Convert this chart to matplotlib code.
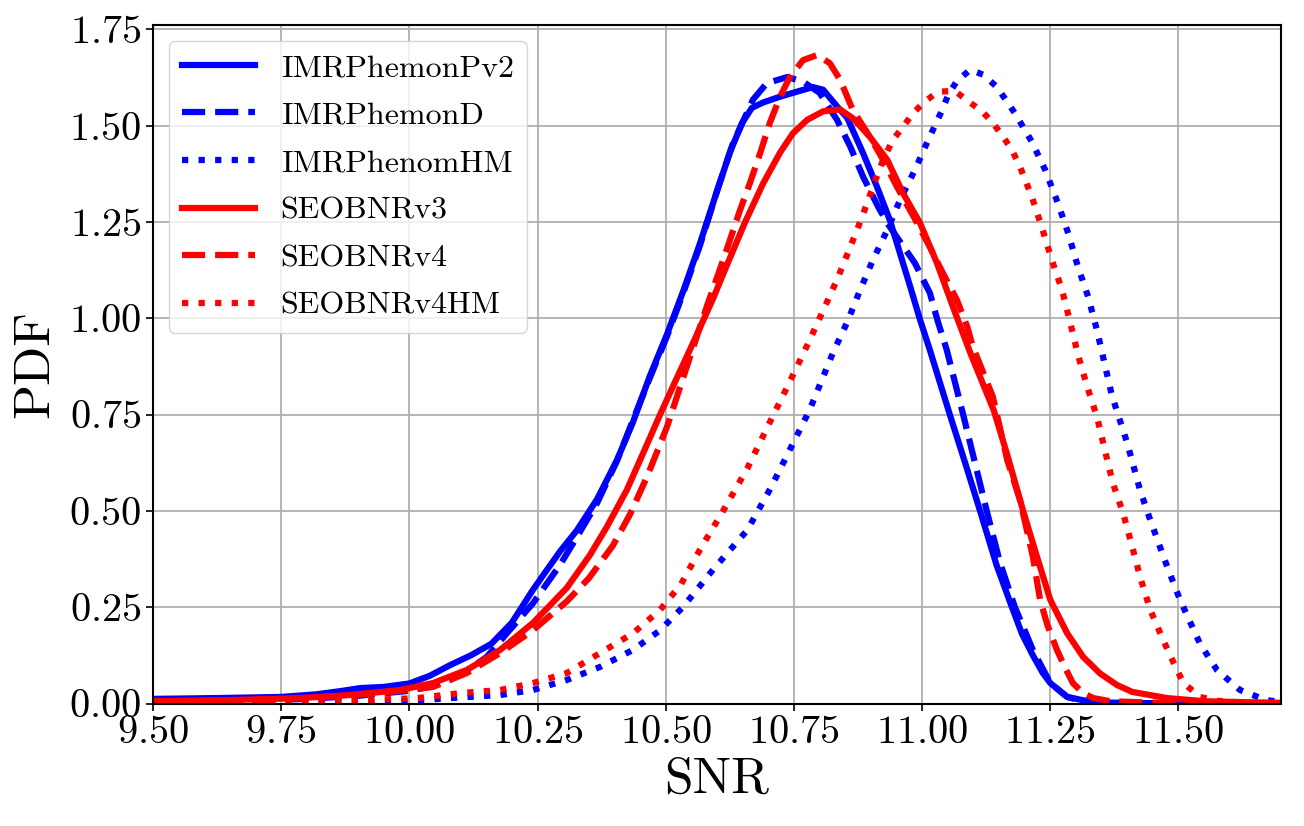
import matplotlib
matplotlib.use('Agg')
import matplotlib.pyplot as plt

plt.rcParams['font.family'] = 'cmr10'
plt.rcParams['mathtext.fontset'] = 'cm'
plt.rcParams['axes.formatter.use_mathtext'] = True

# values
pv2_x = [9.50, 9.62, 9.75, 9.82, 9.87, 9.904, 9.95, 10.00, 10.04, 10.08, 10.12, 10.16, 10.20,
         10.241, 10.27, 10.294, 10.327, 10.366, 10.405, 10.436, 10.469, 10.503, 10.534, 10.567,
         10.60, 10.625, 10.649, 10.668, 10.69, 10.723, 10.756, 10.787, 10.807, 10.834, 10.854,
         10.885, 10.912, 10.937, 10.957, 10.977, 10.996, 11.015, 11.054, 11.085, 11.113, 11.145,
         11.171, 11.195, 11.216, 11.235, 11.25, 11.283, 11.33, 11.40, 11.70]
pv2_y = [0.012, 0.014, 0.017, 0.024, 0.033, 0.040, 0.043, 0.052, 0.072, 0.100, 0.125, 0.155, 0.21,
         0.295, 0.35, 0.395, 0.45, 0.53, 0.632, 0.73, 0.85, 0.96, 1.07, 1.195,
         1.33, 1.43, 1.507, 1.546, 1.56, 1.575, 1.588, 1.60, 1.593, 1.55, 1.52,
         1.428, 1.341, 1.255, 1.168, 1.081, 0.996, 0.918, 0.75, 0.62, 0.50, 0.36,
         0.265, 0.18, 0.125, 0.08, 0.053, 0.017, 0.004, 0.001, 0.0]

d_x = [9.50, 9.65, 9.80, 9.90, 10.00, 10.046, 10.079, 10.112, 10.151, 10.19, 10.241, 10.294,
       10.319, 10.366, 10.405, 10.436, 10.469, 10.503, 10.534, 10.567, 10.60, 10.63, 10.67,
       10.697, 10.737, 10.768, 10.80, 10.834, 10.86, 10.885, 10.914, 10.932, 10.951, 10.973,
       10.986, 11.002, 11.015, 11.031, 11.048, 11.08, 11.126, 11.152, 11.181, 11.216, 11.25,
       11.283, 11.32, 11.40, 11.70]
d_y = [0.004, 0.006, 0.012, 0.020, 0.033, 0.045, 0.061, 0.085, 0.121, 0.182, 0.26, 0.36,
       0.415, 0.52, 0.63, 0.735, 0.845, 0.955, 1.065, 1.19, 1.33, 1.45, 1.567,
       1.61, 1.626, 1.614, 1.585, 1.515, 1.445, 1.367, 1.29, 1.247, 1.21, 1.168,
       1.143, 1.10, 1.066, 0.99, 0.918, 0.75, 0.50, 0.365, 0.25, 0.139, 0.053,
       0.017, 0.004, 0.001, 0.0]

hm_x = [9.50, 9.90, 9.983, 10.079, 10.177, 10.241, 10.307, 10.372, 10.436, 10.489, 10.534,
        10.592, 10.659, 10.705, 10.75, 10.78, 10.826, 10.854, 10.879, 10.904, 10.932, 10.957,
        10.986, 11.012, 11.039, 11.051, 11.068, 11.094, 11.119, 11.146, 11.181, 11.214, 11.24,
        11.265, 11.285, 11.304, 11.324, 11.341, 11.37, 11.40, 11.425, 11.445, 11.478, 11.503,
        11.542, 11.575, 11.62, 11.67, 11.70]
hm_y = [0.0, 0.003, 0.005, 0.014, 0.022, 0.035, 0.061, 0.095, 0.139, 0.19, 0.251,
        0.347, 0.45, 0.56, 0.68, 0.76, 0.91, 0.99, 1.073, 1.151, 1.229, 1.307,
        1.385, 1.463, 1.54, 1.58, 1.616, 1.645, 1.632, 1.60, 1.532, 1.458, 1.385,
        1.298, 1.22, 1.133, 1.055, 0.969, 0.80, 0.676, 0.554, 0.476, 0.355, 0.269,
        0.155, 0.087, 0.035, 0.009, 0.004]

v3_x = [9.50, 9.65, 9.787, 9.884, 9.982, 10.046, 10.112, 10.177, 10.241, 10.307, 10.352, 10.385,
        10.424, 10.456, 10.489, 10.52, 10.553, 10.592, 10.62, 10.655, 10.69, 10.723, 10.748,
        10.776, 10.807, 10.84, 10.865, 10.898, 10.932, 10.963, 10.996, 11.029, 11.06, 11.094,
        11.14, 11.165, 11.197, 11.224, 11.25, 11.283, 11.314, 11.347, 11.38, 11.41, 11.478,
        11.55, 11.64, 11.70]
v3_y = [0.006, 0.009, 0.014, 0.022, 0.035, 0.053, 0.087, 0.139, 0.209, 0.30, 0.385, 0.458,
        0.554, 0.65, 0.75, 0.84, 0.935, 1.05, 1.14, 1.25, 1.35, 1.43, 1.48,
        1.515, 1.537, 1.542, 1.519, 1.471, 1.411, 1.324, 1.247, 1.143, 1.03, 0.91,
        0.76, 0.65, 0.50, 0.381, 0.269, 0.182, 0.121, 0.078, 0.048, 0.03, 0.014,
        0.006, 0.003, 0.002]

v4_x = [9.50, 9.70, 9.85, 9.95, 10.046, 10.112, 10.177, 10.241, 10.307, 10.35, 10.397, 10.43,
        10.464, 10.503, 10.541, 10.58, 10.612, 10.645, 10.664, 10.684, 10.703, 10.723, 10.742,
        10.768, 10.795, 10.82, 10.84, 10.865, 10.898, 10.924, 10.951, 10.985, 11.015, 11.041,
        11.068, 11.088, 11.099, 11.138, 11.166, 11.191, 11.216, 11.23, 11.244, 11.263, 11.28,
        11.294, 11.314, 11.334, 11.367, 11.45, 11.70]
v4_y = [0.003, 0.008, 0.018, 0.028, 0.043, 0.079, 0.131, 0.19, 0.265, 0.325, 0.41, 0.49,
        0.59, 0.72, 0.874, 1.03, 1.151, 1.281, 1.35, 1.428, 1.507, 1.575, 1.626,
        1.67, 1.683, 1.662, 1.619, 1.54, 1.471, 1.411, 1.341, 1.26, 1.185, 1.116,
        1.047, 0.978, 0.926, 0.796, 0.632, 0.528, 0.381, 0.27, 0.205, 0.139, 0.09,
        0.053, 0.027, 0.014, 0.006, 0.002, 0.0]

v4hm_x = [9.50, 9.80, 9.90, 10.015, 10.099, 10.177, 10.241, 10.307, 10.372, 10.436, 10.489,
          10.53, 10.567, 10.612, 10.659, 10.703, 10.74, 10.776, 10.807, 10.834, 10.86, 10.883,
          10.904, 10.924, 10.943, 10.963, 10.982, 11.006, 11.031, 11.064, 11.09, 11.117, 11.138,
          11.158, 11.175, 11.191, 11.214, 11.234, 11.253, 11.273, 11.289, 11.304, 11.322, 11.341,
          11.356, 11.372, 11.392, 11.41, 11.425, 11.445, 11.47, 11.497, 11.51, 11.542, 11.575,
          11.62, 11.70]
v4hm_y = [0.001, 0.004, 0.008, 0.014, 0.027, 0.035, 0.053, 0.079, 0.131, 0.182, 0.243,
          0.31, 0.40, 0.50, 0.61, 0.73, 0.83, 0.93, 1.02, 1.10, 1.185, 1.263,
          1.341, 1.411, 1.463, 1.497, 1.532, 1.563, 1.588, 1.59, 1.563, 1.537, 1.507,
          1.471, 1.437, 1.393, 1.315, 1.234, 1.151, 1.073, 0.988, 0.905, 0.822, 0.744,
          0.66, 0.572, 0.494, 0.406, 0.329, 0.243, 0.165, 0.087, 0.053, 0.017, 0.007,
          0.003, 0.0]

labels = ['IMRPhemonPv2', 'IMRPhemonD', 'IMRPhenomHM', 'SEOBNRv3', 'SEOBNRv4', 'SEOBNRv4HM']
xticks = [9.50, 9.75, 10.00, 10.25, 10.50, 10.75, 11.00, 11.25, 11.50]
yticks = [0.00, 0.25, 0.50, 0.75, 1.00, 1.25, 1.50, 1.75]

fig = plt.figure(figsize=(13.04, 8.26), dpi=100)
ax = fig.add_axes([0.1173, 0.1483, 0.8651, 0.8214])

lw = 4.5
ax.plot(pv2_x, pv2_y, color='blue', ls='-', lw=lw, label=labels[0])
ax.plot(d_x, d_y, color='blue', ls='--', lw=lw, label=labels[1])
ax.plot(hm_x, hm_y, color='blue', ls=':', lw=lw, label=labels[2])
ax.plot(v3_x, v3_y, color='red', ls='-', lw=lw, label=labels[3])
ax.plot(v4_x, v4_y, color='red', ls='--', lw=lw, label=labels[4])
ax.plot(v4hm_x, v4hm_y, color='red', ls=':', lw=lw, label=labels[5])

ax.set_xlim(9.5, 11.7)
ax.set_ylim(0, 1.761)
ax.set_xticks(xticks)
ax.set_yticks(yticks)
ax.tick_params(labelsize=29, width=1.2, length=5)
ax.grid(True, color='#b0b0b0', lw=1.3)
for s in ax.spines.values():
    s.set_linewidth(1.5)

ax.set_xlabel('SNR', fontsize=37, labelpad=4)
ax.set_ylabel('PDF', fontsize=37, labelpad=8)

ax.legend(loc='upper left', fontsize=23, handlelength=2.3, labelspacing=0.6)

fig.savefig('out.png', dpi=100)
